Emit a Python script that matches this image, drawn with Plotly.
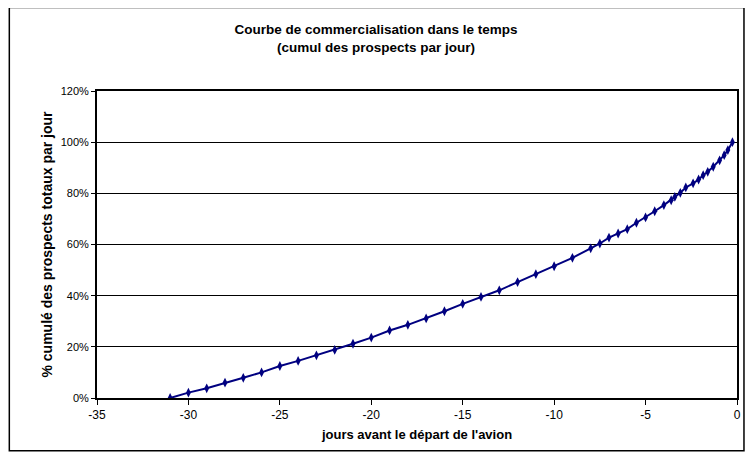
import plotly.graph_objects as go

jours = [-31, -30, -29, -28, -27, -26, -25, -24, -23, -22, -21, -20, -19, -18, -17,
         -16, -15, -14, -13, -12, -11, -10, -9, -8, -7.5, -7, -6.5, -6, -5.5, -5,
         -4.5, -4, -3.6, -3.4, -3.1, -2.8, -2.4, -2.1, -1.85, -1.6, -1.3, -0.95,
         -0.7, -0.5, -0.25]
cumul = [0.0, 0.021, 0.038, 0.060, 0.079, 0.100, 0.125, 0.145, 0.167, 0.188, 0.212,
         0.236, 0.264, 0.286, 0.311, 0.339, 0.368, 0.395, 0.421, 0.453, 0.484,
         0.515, 0.548, 0.585, 0.604, 0.627, 0.643, 0.660, 0.685, 0.706,
         0.730, 0.754, 0.773, 0.786, 0.802, 0.823, 0.839, 0.854, 0.871, 0.884,
         0.904, 0.929, 0.949, 0.969, 1.0]

x_ticks = [-35, -30, -25, -20, -15, -10, -5, 0]
x_labels = ["-35", "-30", "-25", "-20", "-15", "-10", "-5", "0"]

titre = "Courbe de commercialisation dans le temps<br>(cumul des prospects par jour)"
titre_x = "jours avant le départ de l'avion"
titre_y = "% cumulé des prospects totaux par jour"

font = "Liberation Sans, Arial, sans-serif"

fig = go.Figure()
fig.add_trace(go.Scatter(
    x=jours, y=cumul, mode="lines+markers",
    line=dict(color="#000080", width=2),
    marker=dict(symbol="diamond-tall", size=7, color="#000080"),
    showlegend=False,
))

fig.update_layout(
    width=745, height=449,
    margin=dict(l=89, r=14, t=83, b=59),
    paper_bgcolor="white", plot_bgcolor="white",
    font=dict(family=font, size=11, color="black"),
    title=dict(text=titre, x=0.494, xanchor="center", y=0.942, yanchor="top",
               font=dict(family=font, size=13.5, color="black", weight="bold")),
    xaxis=dict(range=[-35, 0], tickvals=x_ticks, ticktext=x_labels,
               showgrid=False, zeroline=False,
               showline=True, linecolor="black", linewidth=2, mirror=True,
               ticks="outside", ticklen=5, tickcolor="black",
               tickfont=dict(size=12),
               title=dict(text=titre_x, font=dict(family=font, size=13, weight="bold"),
                          standoff=8)),
    yaxis=dict(range=[0, 1.2], dtick=0.2, tickformat=".0%", showgrid=True,
               gridcolor="black", gridwidth=1.3, zeroline=False,
               showline=True, linecolor="black", linewidth=2, mirror=True,
               ticks="outside", ticklen=4, tickcolor="black",
               title=dict(text=titre_y, font=dict(family=font, size=14, weight="bold"),
                          standoff=5)),
    shapes=[dict(type="rect", xref="paper", yref="paper",
                 x0=-0.137, x1=1.0109, y0=-0.172, y1=1.272,
                 line=dict(color="black", width=1.5), fillcolor="rgba(0,0,0,0)",
                 layer="below")],
)

fig.write_html("out.html")
